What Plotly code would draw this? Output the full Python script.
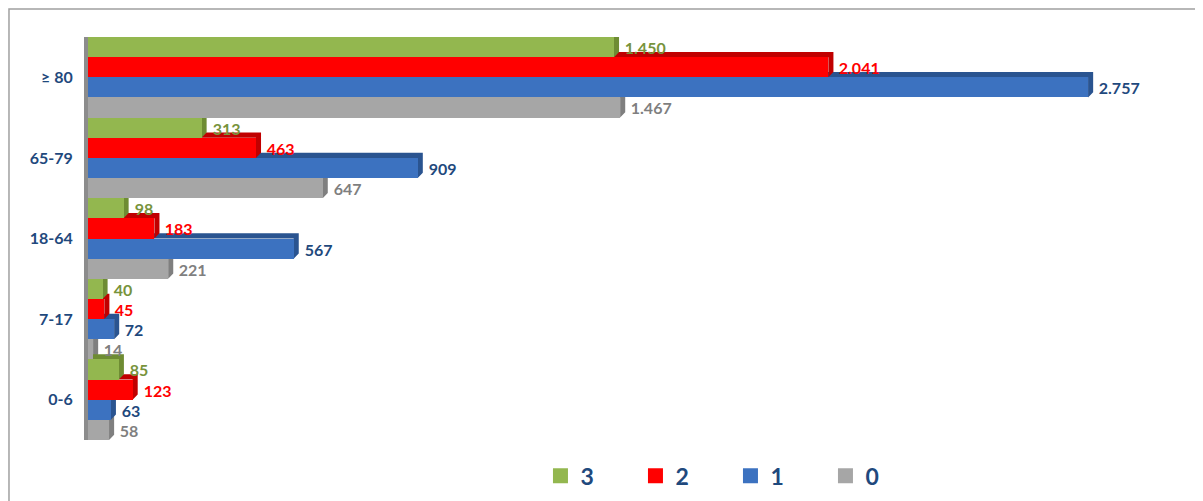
import plotly.graph_objects as go

age_groups = ['0-6', '7-17', '18-64', '65-79', '≥ 80']
series_names = ['0', '1', '2', '3']
values_0 = [58, 14, 221, 647, 1467]
values_1 = [63, 72, 567, 909, 2757]
values_2 = [123, 45, 183, 463, 2041]
values_3 = [85, 40, 98, 313, 1450]

all_values = [values_0, values_1, values_2, values_3]
face_colors = ['#A6A6A6', '#3C72C0', '#FF0000', '#93B74F']
side_colors = ['#7F7F7F', '#2A5490', '#C00000', '#6E8C33']
text_colors = ['#7F7F7F', '#1F497D', '#FF0000', '#77933C']

fig = go.Figure()
for i, name in enumerate(series_names):
    fig.add_trace(go.Bar(
        y=age_groups, x=all_values[i], name=name, orientation='h', showlegend=False,
        marker=dict(color=face_colors[i], line=dict(width=0)),
        texttemplate='  %{x:,}', textposition='outside', cliponaxis=False,
        textfont=dict(color=text_colors[i], size=16, family='Lato', weight='bold'),
    ))

# legend entries with bigger square markers
for i in range(3, -1, -1):
    fig.add_trace(go.Scatter(
        x=[None], y=[None], mode='markers', name=series_names[i],
        marker=dict(symbol='square', size=15, color=face_colors[i]),
    ))

# fake 3d depth: top and right faces, in data coordinates behind the bars
dx, dy = 14, 0.065
shapes = []
for i in range(4):
    for c, v in enumerate(all_values[i]):
        yb = c - 0.5 + i * 0.25
        yt = yb + 0.25
        shapes.append(dict(type='path', xref='x', yref='y', layer='below', line=dict(width=0),
                           fillcolor=side_colors[i],
                           path=f'M 0 {yt} L {dx} {yt+dy} L {v+dx} {yt+dy} L {v+dx} {yb+dy} L {v} {yb} L {v} {yt} Z'))

# outer frame
shapes.append(dict(type='rect', xref='paper', yref='paper', x0=-0.0717, y0=-0.2, x1=1.2, y1=1.0695,
                   line=dict(color='#A0A0A0', width=1.5), layer='below'))

fig.update_layout(
    width=1203, height=501,
    margin=dict(l=80, r=21, t=29, b=69),
    plot_bgcolor='white', paper_bgcolor='white',
    separators=',.',
    barmode='group', bargap=0, bargroupgap=0,
    shapes=shapes,
    showlegend=True,
    legend=dict(orientation='h', x=0.583, y=-0.089, xanchor='center', yanchor='middle',
                font=dict(size=23, color='#1F497D', family='Lato', weight='bold'),
                entrywidth=50, itemwidth=30),
    xaxis=dict(range=[0, 3038], showgrid=False, showticklabels=False, zeroline=False, showline=False),
    yaxis=dict(range=[-0.5, 4.5], automargin=False, showgrid=False, showline=True,
               linecolor='#8C8C8C', linewidth=4, ticks='', ticklabelstandoff=8,
               tickfont=dict(size=16, color='#1F497D', family='Lato', weight='bold')),
)

fig.write_html('out.html')
